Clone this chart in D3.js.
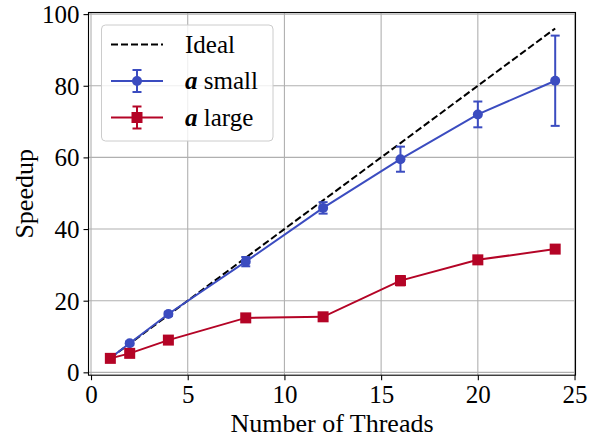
<!DOCTYPE html>
<html>
<head>
<meta charset="utf-8">
<script src="https://cdn.jsdelivr.net/npm/d3@7"></script>
<style>
  body { margin: 0; background: #fff; }
  svg text { font-family: "Liberation Serif", "DejaVu Serif", serif; fill: #000; }
</style>
</head>
<body>
<div id="chart"></div>
<script>
// data
var threads = [1, 2, 4, 8, 12, 16, 20, 24];
var idealSpeedup = [4, 8, 16, 32, 48, 64, 80, 96];
var smallSpeedup = [4.0, 8.1, 16.3, 30.9, 45.9, 59.5, 72.0, 81.4];
var smallErr = [0.3, 0.5, 0.6, 1.3, 1.6, 3.5, 3.6, 12.6];
var largeSpeedup = [3.9, 5.3, 9.0, 15.2, 15.5, 25.6, 31.4, 34.4];
var largeErr = [0.3, 0.3, 0.4, 0.4, 0.4, 1.3, 0.5, 0.4];
var xTicks = [0, 5, 10, 15, 20, 25];
var yTicks = [0, 20, 40, 60, 80, 100];
var seriesNames = ['Ideal', 'small', 'large'];

var width = 591,
  height = 441;

var blue = '#3b4cc0',
  red = '#b40426';

var svg = d3
  .select('#chart')
  .append('svg')
  .attr('width', width)
  .attr('height', height);

var xScale = d3.scaleLinear().domain([-0.13, 25.05]).range([88.5, 575.5]);
var yScale = d3.scaleLinear().domain([-0.8, 100.45]).range([375.2, 12.5]);

var plotLeft = xScale.range()[0],
  plotRight = xScale.range()[1],
  plotTop = yScale.range()[1],
  plotBottom = yScale.range()[0];

// grid
svg
  .append('g')
  .selectAll('line')
  .data(xTicks)
  .enter()
  .append('line')
  .attr('x1', d => xScale(d))
  .attr('x2', d => xScale(d))
  .attr('y1', plotTop)
  .attr('y2', plotBottom)
  .attr('stroke', '#b0b0b0')
  .attr('stroke-width', 1.1);

svg
  .append('g')
  .selectAll('line')
  .data(yTicks)
  .enter()
  .append('line')
  .attr('x1', plotLeft)
  .attr('x2', plotRight)
  .attr('y1', d => yScale(d))
  .attr('y2', d => yScale(d))
  .attr('stroke', '#b0b0b0')
  .attr('stroke-width', 1.1);

// axes
var xAxis = d3.axisBottom(xScale).tickValues(xTicks).tickSize(5).tickPadding(5);
var yAxis = d3.axisLeft(yScale).tickValues(yTicks).tickSize(5).tickPadding(4);

var gx = svg
  .append('g')
  .attr('transform', 'translate(0,' + plotBottom + ')')
  .call(xAxis);
var gy = svg
  .append('g')
  .attr('transform', 'translate(' + plotLeft + ',0)')
  .call(yAxis);

[gx, gy].forEach(function (g) {
  g.select('.domain').remove();
  g.selectAll('line').attr('stroke', '#000').attr('stroke-width', 1.1);
  g.selectAll('text').style('font-size', '25px').attr('font-family', null);
});
gy.selectAll('text').attr('dy', '0.34em');

// ideal
var line = d3
  .line()
  .x(d => xScale(d[0]))
  .y(d => yScale(d[1]));

svg
  .append('path')
  .datum(threads.map((t, i) => [t, idealSpeedup[i]]))
  .attr('d', line)
  .attr('fill', 'none')
  .attr('stroke', '#000')
  .attr('stroke-width', 2)
  .attr('stroke-dasharray', '7,3');

function drawSeries(vals, errs, color, shape) {
  var g = svg.append('g');
  g.append('path')
    .datum(threads.map((t, i) => [t, vals[i]]))
    .attr('d', line)
    .attr('fill', 'none')
    .attr('stroke', color)
    .attr('stroke-width', 2);

  threads.forEach(function (t, i) {
    var x = xScale(t),
      y1 = yScale(vals[i] - errs[i]),
      y2 = yScale(vals[i] + errs[i]);
    g.append('line')
      .attr('x1', x).attr('x2', x)
      .attr('y1', y1).attr('y2', y2)
      .attr('stroke', color).attr('stroke-width', 2);
    [y1, y2].forEach(function (yy) {
      g.append('line')
        .attr('x1', x - 4.5).attr('x2', x + 4.5)
        .attr('y1', yy).attr('y2', yy)
        .attr('stroke', color).attr('stroke-width', 2);
    });
    if (shape === 'circle') {
      g.append('circle')
        .attr('cx', x).attr('cy', yScale(vals[i]))
        .attr('r', 5).attr('fill', color);
    } else {
      g.append('rect')
        .attr('x', x - 5.5).attr('y', yScale(vals[i]) - 5.5)
        .attr('width', 11).attr('height', 11)
        .attr('fill', color);
    }
  });
}

drawSeries(smallSpeedup, smallErr, blue, 'circle');
drawSeries(largeSpeedup, largeErr, red, 'square');

// frame
svg
  .append('rect')
  .attr('x', plotLeft)
  .attr('y', plotTop)
  .attr('width', plotRight - plotLeft)
  .attr('height', plotBottom - plotTop)
  .attr('fill', 'none')
  .attr('stroke', '#000')
  .attr('stroke-width', 1.1);

// axis labels
svg
  .append('text')
  .attr('x', (plotLeft + plotRight) / 2)
  .attr('y', 432)
  .attr('text-anchor', 'middle')
  .style('font-size', '26px')
  .text('Number of Threads');

svg
  .append('text')
  .attr('transform', 'translate(33,' + (plotTop + plotBottom) / 2 + ') rotate(-90)')
  .attr('text-anchor', 'middle')
  .style('font-size', '26px')
  .text('Speedup');

// legend
var legend = svg.append('g');
legend
  .append('rect')
  .attr('x', 101.5)
  .attr('y', 25)
  .attr('width', 171.5)
  .attr('height', 116)
  .attr('rx', 4)
  .attr('fill', 'rgba(255,255,255,0.8)')
  .attr('stroke', '#cccccc')
  .attr('stroke-width', 1);

var rowY = [44.5, 81, 117.5];
var lx1 = 111,
  lx2 = 163,
  lxm = (lx1 + lx2) / 2;

legend.append('line')
  .attr('x1', lx1).attr('x2', lx2)
  .attr('y1', rowY[0]).attr('y2', rowY[0])
  .attr('stroke', '#000').attr('stroke-width', 2)
  .attr('stroke-dasharray', '7,3');

[[blue, 'circle', rowY[1]], [red, 'square', rowY[2]]].forEach(function (s) {
  var c = s[0], y = s[2];
  legend.append('line')
    .attr('x1', lx1).attr('x2', lx2).attr('y1', y).attr('y2', y)
    .attr('stroke', c).attr('stroke-width', 2);
  legend.append('line')
    .attr('x1', lxm).attr('x2', lxm).attr('y1', y - 11).attr('y2', y + 11)
    .attr('stroke', c).attr('stroke-width', 2);
  [y - 11, y + 11].forEach(function (yy) {
    legend.append('line')
      .attr('x1', lxm - 4.5).attr('x2', lxm + 4.5).attr('y1', yy).attr('y2', yy)
      .attr('stroke', c).attr('stroke-width', 2);
  });
  if (s[1] === 'circle') {
    legend.append('circle').attr('cx', lxm).attr('cy', y).attr('r', 5).attr('fill', c);
  } else {
    legend.append('rect').attr('x', lxm - 5.5).attr('y', y - 5.5)
      .attr('width', 11).attr('height', 11).attr('fill', c);
  }
});

legend.append('text')
  .attr('x', 185).attr('y', rowY[0] + 8)
  .style('font-size', '25px')
  .text(seriesNames[0]);

[1, 2].forEach(function (k) {
  var t = legend.append('text')
    .attr('x', 185).attr('y', rowY[k] + 8)
    .style('font-size', '25px');
  t.append('tspan')
    .attr('font-weight', 'bold')
    .attr('font-style', 'italic')
    .text('a');
  t.append('tspan').text(' ' + seriesNames[k]);
});
</script>
</body>
</html>
